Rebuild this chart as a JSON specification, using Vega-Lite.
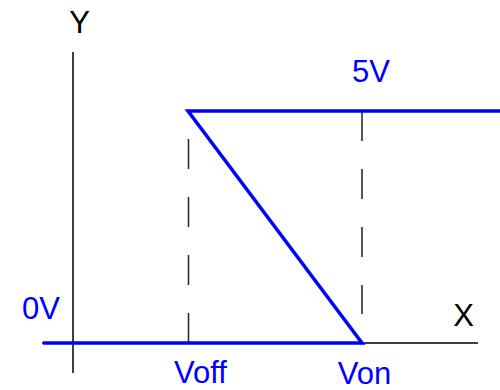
{
  "$schema": "https://vega.github.io/schema/vega-lite/v6.json",
  "width": 500,
  "height": 390,
  "autosize": "none",
  "padding": 0,
  "background": "white",
  "config": {"view": {"stroke": null}},
  "datasets": {
    "axes": [
      {"name": "Y", "x": 0.73, "x2": 0.73, "y": 6.272, "y2": -0.647},
      {"name": "X", "x": 0.42, "x2": 4.78, "y": 0, "y2": 0}
    ],
    "guides": [
      {"name": "Voff", "x": 1.885, "y": 4.397, "y2": 0},
      {"name": "Von", "x": 3.62, "y": 5.0, "y2": 0.625}
    ],
    "curve": [
      {"step": 1, "x": 0.43, "y": 0},
      {"step": 2, "x": 3.62, "y": 0},
      {"step": 3, "x": 1.88, "y": 5},
      {"step": 4, "x": 5.0, "y": 5}
    ],
    "labels": [
      {"text": "Y", "kind": "axis", "x": 0.795, "y": 6.681},
      {"text": "X", "kind": "axis", "x": 4.635, "y": 0.366},
      {"text": "0V", "kind": "value", "x": 0.41, "y": 0.517},
      {"text": "5V", "kind": "value", "x": 3.71, "y": 5.625},
      {"text": "Voff", "kind": "value", "x": 2.005, "y": -0.862},
      {"text": "Von", "kind": "value", "x": 3.645, "y": -0.88}
    ]
  },
  "encoding": {
    "x": {"field": "x", "type": "quantitative", "scale": {"domain": [0, 5], "nice": false, "zero": false}, "axis": null},
    "y": {"field": "y", "type": "quantitative", "scale": {"domain": [-1.0129, 7.3922], "nice": false, "zero": false}, "axis": null}
  },
  "layer": [
    {
      "data": {"name": "axes"},
      "mark": {"type": "rule", "color": "black", "strokeWidth": 1.5},
      "encoding": {
        "x2": {"field": "x2"},
        "y2": {"field": "y2"}
      }
    },
    {
      "data": {"name": "guides"},
      "mark": {"type": "rule", "color": "#222222", "strokeWidth": 1.5, "strokeDash": [30, 28]},
      "encoding": {
        "y2": {"field": "y2"}
      }
    },
    {
      "data": {"name": "curve"},
      "mark": {"type": "line", "color": "#0000ff", "strokeWidth": 3.5, "strokeJoin": "miter"},
      "encoding": {
        "order": {"field": "step", "type": "quantitative"}
      }
    },
    {
      "data": {"name": "labels"},
      "mark": {"type": "text", "font": "Liberation Sans", "fontSize": 31, "align": "center", "baseline": "alphabetic"},
      "encoding": {
        "text": {"field": "text"},
        "color": {"field": "kind", "type": "nominal", "scale": {"domain": ["axis", "value"], "range": ["black", "#0000ff"]}, "legend": null}
      }
    }
  ]
}
